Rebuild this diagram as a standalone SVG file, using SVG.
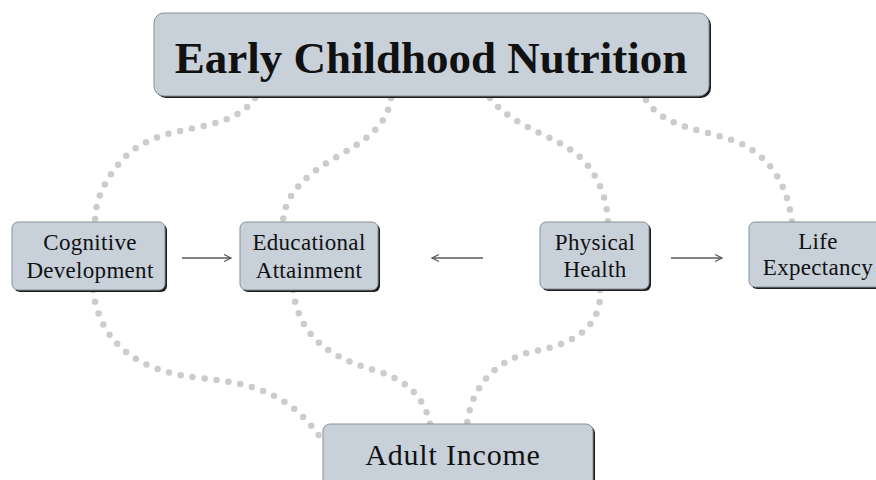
<svg xmlns="http://www.w3.org/2000/svg" width="876" height="480" viewBox="0 0 876 480">
  <defs>
    <style>
      .dots { fill: none; stroke: #cccccc; stroke-width: 6.5; stroke-linecap: round; stroke-dasharray: 0 12; }
      .arrow { fill: none; stroke: #5a5a5a; stroke-width: 1.3; marker-end: url(#chev); }
      .box { fill: #c8d0da; stroke: #8a8f96; stroke-width: 1; }
      .shadow { fill: #1c1c1c; }
      .label { font-family: "Liberation Serif", "Times New Roman", serif; fill: #111111; text-anchor: middle; }
      .small { font-size: 23px; letter-spacing: 0.3px; }
    </style>
    <marker id="chev" viewBox="0 0 10 10" refX="9" refY="5" markerWidth="10" markerHeight="10" markerUnits="userSpaceOnUse" orient="auto">
      <path d="M2,1.5 L9,5 L2,8.5" fill="none" stroke="#5a5a5a" stroke-width="1.2"/>
    </marker>
  </defs>
  <rect width="876" height="480" fill="#ffffff"/>

  <!-- dotted links and arrows -->
  <g id="connectors">
    <path class="dots" d="M255,98 C228,138 160,118 122,160 C102,183 95,203 95,222"/>
    <path class="dots" d="M391,98 C385,140 340,150 310,175 C292,190 284,205 283,222"/>
    <path class="dots" d="M490,98 C515,130 560,135 585,162 C600,180 607,200 608,222"/>
    <path class="dots" d="M646,100 C665,130 710,130 740,143 C775,160 788,190 792,222"/>
    <path class="dots" d="M93,290 C100,345 140,372 200,378 C250,383 290,392 322,440"/>
    <path class="dots" d="M293,290 C300,345 340,360 380,372 C410,382 425,400 430,424"/>
    <path class="dots" d="M600,290 C602,330 570,345 530,352 C495,362 472,385 467,424"/>
    <line class="arrow" x1="182" y1="258" x2="231" y2="258"/>
    <line class="arrow" x1="483" y1="258" x2="432" y2="258"/>
    <line class="arrow" x1="671" y1="258" x2="722" y2="258"/>
  </g>

  <g id="nutrition">
    <rect class="shadow" x="156" y="15" width="555" height="83" rx="10"/>
    <rect class="box" x="154" y="13" width="555" height="83" rx="10"/>
    <text class="label" x="431" y="73" font-size="45" font-weight="bold">Early Childhood Nutrition</text>
  </g>

  <g id="cognitive">
    <rect class="shadow" x="14" y="224" width="153" height="68" rx="6"/>
    <rect class="box" x="12" y="222" width="153" height="68" rx="6"/>
    <text class="label small" x="90" y="250">Cognitive</text>
    <text class="label small" x="90" y="278">Development</text>
  </g>

  <g id="education">
    <rect class="shadow" x="242" y="224" width="138" height="68" rx="6"/>
    <rect class="box" x="240" y="222" width="138" height="68" rx="6"/>
    <text class="label small" x="309" y="250">Educational</text>
    <text class="label small" x="309" y="278">Attainment</text>
  </g>

  <g id="health">
    <rect class="shadow" x="542" y="224" width="109" height="67" rx="6"/>
    <rect class="box" x="540" y="222" width="109" height="67" rx="6"/>
    <text class="label small" x="595" y="250">Physical</text>
    <text class="label small" x="595" y="277">Health</text>
  </g>

  <g id="life">
    <rect class="shadow" x="751" y="224" width="140" height="65" rx="6"/>
    <rect class="box" x="749" y="222" width="140" height="65" rx="6"/>
    <text class="label small" x="818" y="249">Life</text>
    <text class="label small" x="818" y="275">Expectancy</text>
  </g>

  <g id="income">
    <rect class="shadow" x="325" y="426" width="270" height="70" rx="7"/>
    <rect class="box" x="323" y="424" width="270" height="70" rx="7"/>
    <text class="label" x="453" y="465" font-size="30" letter-spacing="0.8">Adult Income</text>
  </g>
</svg>
